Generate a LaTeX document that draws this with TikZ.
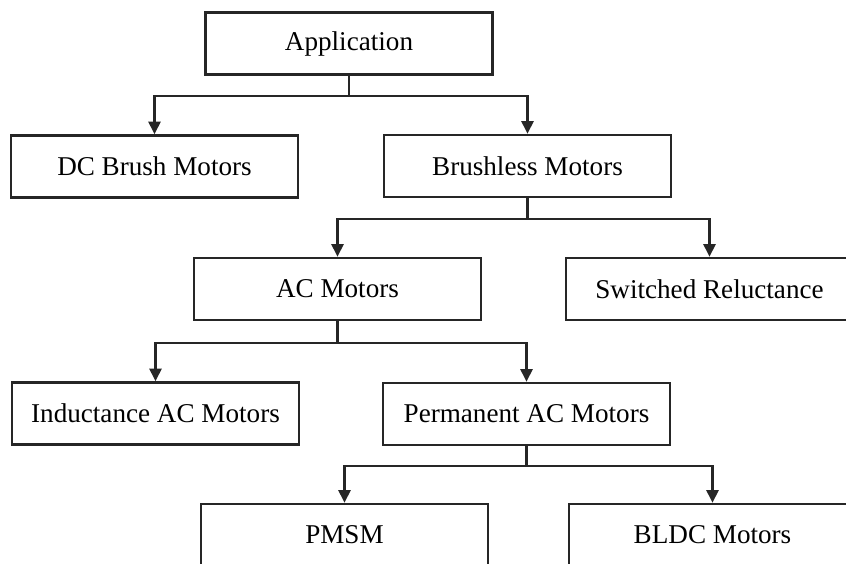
\documentclass[tikz,border=0pt]{standalone}
\usepackage{fontspec}
\setmainfont{Liberation Serif}
\usetikzlibrary{arrows.meta}

\begin{document}
\begin{tikzpicture}[>={Triangle[width=8.5pt,length=9pt]},
  kasten/.style={draw=black!85, line width=1.7pt, minimum width=7.175cm,
    minimum height=1.55cm, inner sep=0pt, font=\fontsize{19.3}{23}\selectfont},
  pfeil/.style={->, draw=black!85, line width=1.7pt}]

  \useasboundingbox (0,0) rectangle (21.15,-14.075);

  % Kaesten
  \node[kasten] (app) at (8.725,-1.0875) {Application};
  \node[kasten] (dc) at (3.8625,-4.1625) {DC Brush Motors};
  \node[kasten] (bl) at (13.1875,-4.15) {Brushless Motors};
  \node[kasten] (ac) at (8.4375,-7.225) {AC Motors};
  \node[kasten] (sr) at (17.7375,-7.225) {Switched Reluctance};
  \node[kasten] (ind) at (3.8875,-10.3375) {Inductance AC Motors};
  \node[kasten] (perm) at (13.1625,-10.35) {Permanent AC Motors};
  \node[kasten] (pmsm) at (8.6125,-13.375) {PMSM};
  \node[kasten] (bldc) at (17.8125,-13.375) {BLDC Motors};

  % Pfeile
  \draw[pfeil] (app.south) -- ++(0,-0.5) -| (dc.north);
  \draw[pfeil] (app.south) -- ++(0,-0.5) -| (bl.north);
  \draw[pfeil] (bl.south) -- ++(0,-0.525) -| (ac.north);
  \draw[pfeil] (bl.south) -- ++(0,-0.525) -| (sr.north);
  \draw[pfeil] (ac.south) -- ++(0,-0.55) -| (ind.north);
  \draw[pfeil] (ac.south) -- ++(0,-0.55) -| (perm.north);
  \draw[pfeil] (perm.south) -- ++(0,-0.5) -| (pmsm.north);
  \draw[pfeil] (perm.south) -- ++(0,-0.5) -| (bldc.north);
\end{tikzpicture}
\end{document}
